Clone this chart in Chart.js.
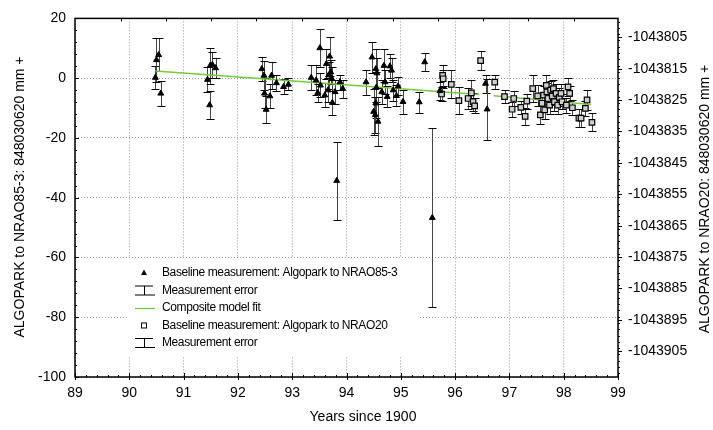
<!DOCTYPE html>
<html>
<head>
<meta charset="utf-8">
<script src="https://cdn.jsdelivr.net/npm/chart.js@4"></script>
<style>
  html, body { margin: 0; padding: 0; background: #fff; }
  #wrap { width: 713px; height: 430px; }
</style>
</head>
<body>
<div id="wrap"><canvas id="baselineChart" width="713" height="430"></canvas></div>

<script>
  // Algopark -> NRAO85-3 (triangles)
  const triYears  = [90.48, 90.50, 90.54, 90.58,
    91.44, 91.48, 91.49, 91.53, 91.59,
    92.44, 92.48, 92.49, 92.52, 92.59, 92.62, 92.71, 92.84, 92.93,
    93.35, 93.44, 93.51, 93.47, 93.52, 93.60, 93.63, 93.69, 93.71, 93.67, 93.73, 93.74, 93.79, 93.88, 93.93, 93.66, 93.82,
    94.36, 94.47, 94.54, 94.56, 94.55, 94.54, 94.50, 94.53, 94.58, 94.65, 94.69, 94.71, 94.75, 94.80, 94.83, 94.86, 94.92, 94.95, 95.04, 95.34, 95.44, 95.58,
    95.72, 96.56, 96.59];
  const triValues = [0.2, 6.1, 7.8, -5.1,
    -0.5, -9.0, 4.2, 4.5, 3.4,
    3.1, 0.9, -5.1, -10.5, -6.0, 0.9, -1.6, -2.9, -2.1,
    0.2, -0.7, 10.1, -4.9, -2.4, -5.7, 4.8, 7.3, 2.0, 1.0, -0.2, -8.2, -4.6, -1.3, -3.5, -4.0, -34.3,
    -1.3, 7.0, 3.1, 1.7, -3.1, -8.4, -11.2, -12.3, -14.5, -4.6, 4.2, -1.3, -6.2, 4.0, 2.6, -4.0, -5.9, -2.7, -7.9, -8.0, 5.4, -46.7,
    -4.2, -1.8, -10.4];
  const triErrors = [3.8, 7.5, 5.5, 4.1,
    4.2, 4.6, 6.0, 4.3, 3.4,
    4.0, 5.0, 5.0, 4.5, 4.0, 4.5, 2.6, 2.5, 2.0,
    4.2, 5.0, 6.3, 3.0, 4.0, 4.0, 5.0, 6.5, 4.0, 4.5, 4.0, 4.0, 4.0, 2.5, 3.0, 4.0, 13.0,
    4.2, 5.2, 6.5, 5.0, 5.0, 5.0, 7.7, 6.0, 8.2, 4.0, 5.4, 4.0, 3.5, 4.0, 4.0, 3.5, 3.5, 3.0, 4.0, 3.5, 3.0, 30.0,
    3.0, 3.0, 10.2];

  // Algopark -> NRAO20 (squares)
  const sqYears  = [95.77, 95.78, 95.75, 95.93, 96.07, 96.24, 96.30, 96.33, 96.36, 96.47,
    96.73, 96.91, 97.05, 97.08, 97.21, 97.29, 97.32, 97.43, 97.52, 97.57, 97.60, 97.63, 97.65, 97.68,
    97.69, 97.71, 97.74, 97.76, 97.79, 97.81, 97.83, 97.86, 97.89, 97.92, 97.95, 97.97, 98.05, 98.08,
    98.11, 98.16, 98.28, 98.32, 98.40, 98.43, 98.52];
  const sqValues = [0.9, -0.2, -5.3, -2.1, -7.5, -6.8, -4.9, -7.9, -9.3, 5.9,
    -1.3, -6.2, -10.4, -6.8, -9.8, -12.8, -7.7, -3.5, -5.9, -12.3, -8.4, -5.7, -10.6, -2.4,
    -4.6, -6.8, -9.0, -4.0, -6.0, -3.5, -7.9, -5.1, -9.0, -6.4, -5.1, -7.9, -9.0, -2.9,
    -5.1, -9.9, -13.4, -13.4, -10.1, -7.3, -14.8];
  const sqErrors = [3.5, 3.0, 2.5, 4.7, 4.6, 3.6, 4.4, 3.0, 2.5, 3.3,
    2.3, 2.1, 2.5, 2.5, 2.3, 2.8, 2.5, 4.4, 3.5, 3.0, 3.0, 3.0, 3.0, 3.5,
    3.0, 3.0, 3.0, 3.0, 3.0, 3.0, 3.0, 3.0, 3.0, 3.0, 3.0, 2.5, 2.5, 3.0,
    2.5, 2.5, 3.0, 3.0, 2.5, 3.5, 3.0];

  // composite model fit, two pieces
  const fitYearsA = [90.48, 96.45];
  const fitValuesA = [2.4, -5.5];
  const fitYearsB = [96.71, 98.50];
  const fitValuesB = [-5.9, -8.8];

  const rightTicks = [-1043805, -1043815, -1043825, -1043835, -1043845, -1043855,
    -1043865, -1043875, -1043885, -1043895, -1043905];
  const topTicks = [89.84, 90.67, 91.51, 92.34, 93.18, 94.01, 94.85, 95.68, 96.52, 97.35, 98.19];

  const legendLabels = [
    'Baseline measurement: Algopark to NRAO85-3',
    'Measurement error',
    'Composite model fit',
    'Baseline measurement: Algopark to NRAO20',
    'Measurement error'
  ];

  const FONT = '"Liberation Sans", Arial, Helvetica, sans-serif';
  const fitGreen = '#72cc3a';

  function initBaselineChart() {
    const toXY = (xs, ys) => xs.map((x, i) => ({ x: x, y: ys[i] }));

    // error bars under the markers
    const errorBars = {
      id: 'errorBars',
      beforeDatasetsDraw(chart) {
        const { ctx, scales: { x, y } } = chart;
        ctx.save();
        ctx.lineWidth = 1;
        [[triYears, triValues, triErrors], [sqYears, sqValues, sqErrors]].forEach(([xs, ys, es]) => {
          xs.forEach((xv, i) => {
            const px = Math.round(x.getPixelForValue(xv)) + 0.5;
            const top = Math.round(y.getPixelForValue(ys[i] + es[i])) + 0.5;
            const bot = Math.round(y.getPixelForValue(ys[i] - es[i])) + 0.5;
            ctx.strokeStyle = '#444';
            ctx.beginPath();
            ctx.moveTo(px, top); ctx.lineTo(px, bot);
            ctx.stroke();
            ctx.strokeStyle = '#000';
            ctx.beginPath();
            ctx.moveTo(px - 4, top); ctx.lineTo(px + 4, top);
            ctx.moveTo(px - 4, bot); ctx.lineTo(px + 4, bot);
            ctx.stroke();
          });
        });
        ctx.restore();
      }
    };

    function drawErrSymbol(ctx, cx, cy) {
      ctx.strokeStyle = '#000';
      ctx.lineWidth = 1;
      ctx.beginPath();
      ctx.moveTo(cx - 9, cy - 4.5); ctx.lineTo(cx + 9, cy - 4.5);
      ctx.moveTo(cx + 0.5, cy - 4.5); ctx.lineTo(cx + 0.5, cy + 4.5);
      ctx.moveTo(cx - 9, cy + 4.5); ctx.lineTo(cx + 11, cy + 4.5);
      ctx.stroke();
    }

    // legend box inside the plot
    const insideLegend = {
      id: 'insideLegend',
      afterDatasetsDraw(chart) {
        const ctx = chart.ctx;
        ctx.save();
        ctx.fillStyle = '#fff';
        ctx.fillRect(128, 258, 290, 99);
        const rowY = [273, 290.5, 308, 325.5, 343];
        const sx = 144;
        // triangle
        ctx.fillStyle = '#000';
        ctx.beginPath();
        ctx.moveTo(sx, rowY[0] - 3.5); ctx.lineTo(sx + 3, rowY[0] + 2); ctx.lineTo(sx - 3, rowY[0] + 2);
        ctx.closePath(); ctx.fill();
        drawErrSymbol(ctx, sx, rowY[1]);
        ctx.strokeStyle = fitGreen; ctx.lineWidth = 1.3;
        ctx.beginPath(); ctx.moveTo(135, rowY[2] + 0.5); ctx.lineTo(155, rowY[2] + 0.5); ctx.stroke();
        ctx.strokeStyle = '#000'; ctx.lineWidth = 1;
        ctx.strokeRect(sx - 2.5, rowY[3] - 2.5, 5, 5);
        drawErrSymbol(ctx, sx, rowY[4]);
        ctx.fillStyle = '#000';
        ctx.font = '12px ' + FONT;
        ctx.letterSpacing = '-0.4px';
        ctx.textBaseline = 'middle';
        ctx.textAlign = 'left';
        legendLabels.forEach((t, i) => ctx.fillText(t, 162, rowY[i]));
        ctx.restore();
      }
    };

    // frame, inner ticks, axis titles
    const frameAndTitles = {
      id: 'frameAndTitles',
      afterDraw(chart) {
        const { ctx, chartArea: a, scales: { x, y, y2 } } = chart;
        ctx.save();
        ctx.strokeStyle = '#000';
        ctx.lineWidth = 1;
        ctx.beginPath();
        for (let v = -100; v <= 20; v += 4) {
          const py = Math.round(y.getPixelForValue(v)) + 0.5;
          const len = v % 20 === 0 ? 4 : 2;
          ctx.moveTo(a.left, py); ctx.lineTo(a.left + len, py);
        }
        for (let k = 0; k <= 50; k++) {
          const px = Math.round(x.getPixelForValue(89 + k * 0.2)) + 0.5;
          const len = k % 5 === 0 ? 4 : 2;
          ctx.moveTo(px, a.bottom - len); ctx.lineTo(px, a.bottom + (k % 5 === 0 ? 3 : 0));
        }
        topTicks.forEach(v => {
          const px = Math.round(x.getPixelForValue(v)) + 0.5;
          ctx.moveTo(px, a.top); ctx.lineTo(px, a.top + 3);
        });
        for (let v = -1043913; v <= -1043799; v++) {
          if (v % 2 !== 0) continue;
          const py = Math.round(y2.getPixelForValue(v)) + 0.5;
          ctx.moveTo(a.right, py); ctx.lineTo(a.right + 2, py);
        }
        rightTicks.forEach(v => {
          const py = Math.round(y2.getPixelForValue(v)) + 0.5;
          ctx.moveTo(a.right, py); ctx.lineTo(a.right + 4, py);
        });
        ctx.stroke();
        ctx.lineWidth = 1.5;
        ctx.strokeRect(a.left, a.top, a.right - a.left, a.bottom - a.top);

        ctx.fillStyle = '#000';
        ctx.font = '14px ' + FONT;
        ctx.textAlign = 'center';
        ctx.textBaseline = 'middle';
        ctx.fillText('Years since 1900', 363, 417);
        ctx.save();
        ctx.translate(20, 197);
        ctx.rotate(-Math.PI / 2);
        ctx.fillText('ALGOPARK to NRAO85-3: 848030620 mm +', 0, 0);
        ctx.restore();
        ctx.save();
        ctx.translate(705, 199);
        ctx.rotate(-Math.PI / 2);
        ctx.fillText('ALGOPARK to NRAO20: 848030620 mm +', 0, 0);
        ctx.restore();
        ctx.restore();
      }
    };

    const tickFont = { family: FONT, size: 14 };
    const ctx1 = document.getElementById('baselineChart').getContext('2d');
    const chart1 = new Chart(ctx1, {
      type: 'scatter',
      data: {
        datasets: [
          {
            label: 'Composite model fit',
            type: 'line',
            data: toXY(fitYearsA, fitValuesA),
            borderColor: fitGreen,
            borderWidth: 1.5,
            pointRadius: 0,
            fill: false,
            order: 3
          },
          {
            label: 'Composite model fit B',
            type: 'line',
            data: toXY(fitYearsB, fitValuesB),
            borderColor: fitGreen,
            borderWidth: 1.5,
            pointRadius: 0,
            fill: false,
            order: 3
          },
          {
            label: 'Baseline measurement: Algopark to NRAO85-3',
            data: toXY(triYears, triValues),
            pointStyle: 'triangle',
            pointRadius: 3.4,
            backgroundColor: '#000',
            borderColor: '#000',
            borderWidth: 1,
            order: 1
          },
          {
            label: 'Baseline measurement: Algopark to NRAO20',
            data: toXY(sqYears, sqValues),
            pointStyle: 'rect',
            pointRadius: 3.9,
            backgroundColor: '#cfcfcf',
            borderColor: '#000',
            borderWidth: 1.2,
            order: 2
          }
        ]
      },
      options: {
        responsive: false,
        animation: false,
        events: [],
        layout: { padding: { top: 14, left: 0, right: 0, bottom: 0 } },
        plugins: { legend: { display: false }, tooltip: { enabled: false } },
        scales: {
          x: {
            type: 'linear',
            position: 'bottom',
            min: 89,
            max: 99,
            afterFit: s => { s.height = 53; },
            ticks: { stepSize: 1, padding: 8, font: tickFont, color: '#000', maxRotation: 0, callback: v => String(v) },
            grid: { color: '#9a9a9a', lineWidth: 1, drawTicks: false },
            border: { display: false, dash: [1, 2] }
          },
          y: {
            position: 'left',
            min: -100,
            max: 20,
            afterFit: s => { s.width = 75; },
            ticks: { stepSize: 20, padding: 9, font: tickFont, color: '#000', callback: v => String(v) },
            grid: { color: '#9a9a9a', lineWidth: 1, drawTicks: false },
            border: { display: false, dash: [1, 2] }
          },
          y2: {
            position: 'right',
            min: -1043913.2,
            max: -1043799,
            afterFit: s => { s.width = 95; },
            afterBuildTicks: s => { s.ticks = rightTicks.map(v => ({ value: v })); },
            ticks: { padding: 10, font: tickFont, color: '#000', callback: v => String(v) },
            grid: { display: false, drawTicks: false },
            border: { display: false }
          }
        }
      },
      plugins: [errorBars, insideLegend, frameAndTitles]
    });
  }

  requestAnimationFrame(initBaselineChart);
</script>
</body>
</html>
